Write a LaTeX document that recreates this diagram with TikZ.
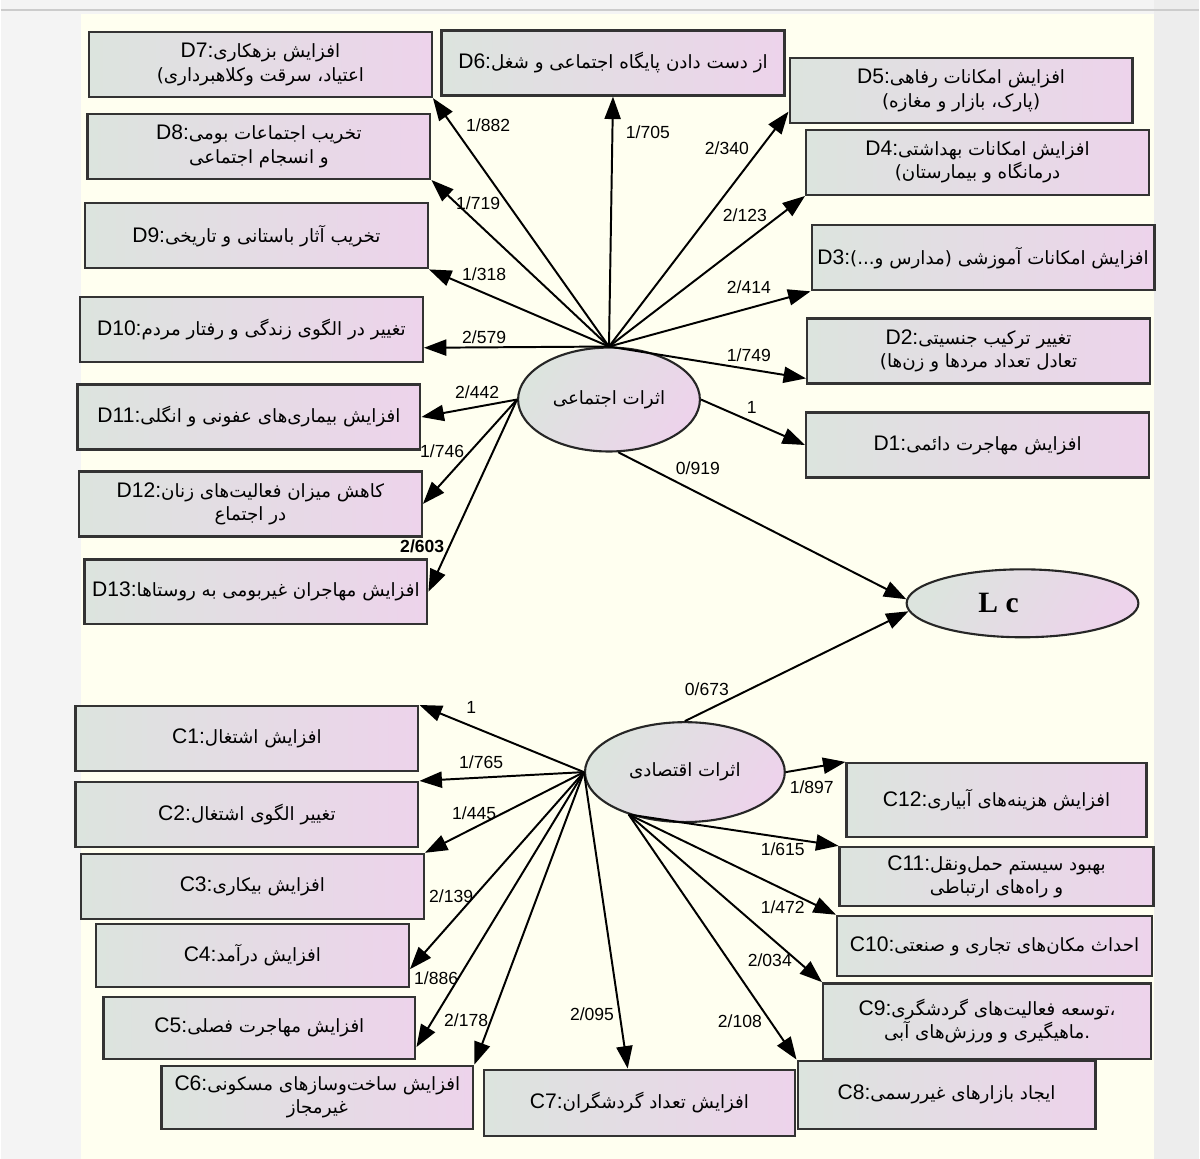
\documentclass[tikz,border=0pt]{standalone}
\usepackage{fontspec}
\setmainfont{Liberation Sans}
\newfontfamily\fafont[Script=Arabic]{DejaVu Sans}
\newfontfamily\lcfont{Liberation Serif}
\TeXXeTstate=1
\usepackage{tikz}
\usetikzlibrary{arrows.meta, positioning, shapes.geometric}

\definecolor{paper}{HTML}{FFFFF0}
\definecolor{margin_l}{HTML}{F4F4F4}
\definecolor{margin_r}{HTML}{EDEDED}
\definecolor{box_l}{HTML}{DCE4DE}
\definecolor{box_r}{HTML}{EDD3EB}

\newcommand{\fa}[1]{\beginR{\fafont\fontsize{13}{17}\selectfont #1}\endR}

\begin{document}
\begin{tikzpicture}[
  x=0.025cm, y=-0.025cm,
  arrow/.style={-{Triangle[length=16pt, width=11.5pt]}, line width=1.4pt},
  item_box/.style={rectangle, draw=black!80, line width=1.7pt, left color=box_l, right color=box_r, minimum width=8.575cm, minimum height=1.625cm, align=center, inner sep=1pt, font=\fontsize{15}{16.5}\selectfont},
  factor/.style={ellipse, draw=black!85, line width=1.5pt, left color=box_l, right color=box_r, shading angle=60, inner sep=0pt, font=\fontsize{14}{16}\selectfont},
  weight/.style={inner sep=1pt, font=\fontsize{12.5}{14}\selectfont}
]

  % page background
  \fill[margin_l] (0,0) rectangle (1200,1160);
  \fill[margin_r] (1155,0) rectangle (1200,1160);
  \fill[paper] (80,14) rectangle (1155,1160);
  \draw[black!20, line width=1pt] (0,10) -- (1200,10);
  \useasboundingbox (0,0) rectangle (1200,1160);

  % social effects (D)
  \node (d7) [item_box] at (260,64.5) {D7:\fa{افزایش بزهکاری}\\ \fa{اعتیاد، سرقت وکلاهبرداری)}};
  \node (d6) [item_box] at (613,63) {D6:\fa{از دست دادن پایگاه اجتماعی و شغل}};
  \node (d5) [item_box] at (961.5,90.5) {D5:\fa{افزایش امکانات رفاهی}\\ \fa{(پارک، بازار و مغازه)}};
  \node (d4) [item_box] at (978,162.5) {D4:\fa{افزایش امکانات بهداشتی}\\ \fa{درمانگاه و بیمارستان)}};
  \node (d8) [item_box] at (258.5,146.5) {D8:\fa{تخریب اجتماعات بومی}\\ \fa{و انسجام اجتماعی}};
  \node (d9) [item_box] at (256,236) {D9:\fa{تخریب آثار باستانی و تاریخی}};
  \node (d3) [item_box] at (983.5,258) {D3:\fa{افزایش امکانات آموزشی (مدارس و...)}};
  \node (d10) [item_box] at (251,330) {D10:\fa{تغییر در الگوی زندگی و رفتار مردم}};
  \node (d2) [item_box] at (979,351.5) {D2:\fa{تغییر ترکیب جنسیتی}\\ \fa{تعادل تعداد مردها و زن‌ها)}};
  \node (d11) [item_box] at (248.5,417.5) {D11:\fa{افزایش بیماری‌های عفونی و انگلی}};
  \node (d1) [item_box] at (978,445.5) {D1:\fa{افزایش مهاجرت دائمی}};
  \node (d12) [item_box] at (250,504.5) {D12:\fa{کاهش میزان فعالیت‌های زنان}\\ \fa{در اجتماع}};
  \node (d13) [item_box] at (255.5,592.5) {D13:\fa{افزایش مهاجران غیربومی به روستاها}};

  % latent factors
  \node (soc) [factor, minimum width=4.55cm, minimum height=2.6cm] at (609,400) {\fa{اثرات اجتماعی}};
  \node (lc) [factor, minimum width=5.8cm, minimum height=1.7cm] at (1023,604) {\lcfont\bfseries\fontsize{21}{23}\selectfont L c\hspace{1.2cm}\mbox{}};
  \node (eco) [factor, minimum width=5cm, minimum height=2.5cm] at (685,773) {\fa{اثرات اقتصادی}};

  % economic effects (C)
  \node (c1) [item_box] at (246.5,739.5) {C1:\fa{افزایش اشتغال}};
  \node (c2) [item_box] at (246.5,815.5) {C2:\fa{تغییر الگوی اشتغال}};
  \node (c3) [item_box] at (252,887.5) {C3:\fa{افزایش بیکاری}};
  \node (c4) [item_box, minimum width=7.825cm, minimum height=1.575cm] at (252,956.5) {C4:\fa{افزایش درآمد}};
  \node (c5) [item_box, minimum width=7.8cm, minimum height=1.55cm] at (259,1029) {C5:\fa{افزایش مهاجرت فصلی}};
  \node (c6) [item_box, minimum width=7.8cm, minimum height=1.575cm] at (317,1098.5) {C6:\fa{افزایش ساخت‌وسازهای مسکونی}\\ \fa{غیرمجاز}};
  \node (c7) [item_box, minimum width=7.775cm, minimum height=1.65cm] at (639.5,1104) {C7:\fa{افزایش تعداد گردشگران}};
  \node (c8) [item_box, minimum width=7.45cm, minimum height=1.7cm] at (947,1096) {C8:\fa{ایجاد بازارهای غیررسمی}};
  \node (c9) [item_box, minimum width=8.2cm, minimum height=1.9cm] at (987.5,1022.5) {C9:\fa{،توسعه فعالیت‌های گردشگری}\\ \fa{.ماهیگیری و ورزش‌های آبی}};
  \node (c10) [item_box, minimum width=7.875cm, minimum height=1.5cm] at (995,947) {C10:\fa{احداث مکان‌های تجاری و صنعتی}};
  \node (c11) [item_box, minimum width=7.85cm, minimum height=1.475cm] at (997,877.5) {C11:\fa{بهبود سیستم حمل‌ونقل}\\ \fa{و راه‌های ارتباطی}};
  \node (c12) [item_box, minimum width=7.5cm, minimum height=1.85cm] at (997,801) {C12:\fa{افزایش هزینه‌های آبیاری}};

  % social loadings
  \draw[arrow] (soc.north) -- (d7.south east);
  \draw[arrow] (soc.north) -- (d6.south);
  \draw[arrow] (soc.north) -- (d5.187);
  \draw[arrow] (soc.north) -- (d4.south west);
  \draw[arrow] (soc.north) -- (d3.south west);
  \draw[arrow] (soc.north) -- (d2.189);
  \draw[arrow] (soc.east) -- (d1.west);
  \draw[arrow] (soc.north) -- (d8.south east);
  \draw[arrow] (soc.north) -- (d9.south east);
  \draw[arrow] (soc.north) -- (d10.354);
  \draw[arrow] (soc.west) -- (d11.east);
  \draw[arrow] (soc.west) -- (d12.east);
  \draw[arrow] (soc.west) -- (d13.east);

  % paths to Lc
  \draw[arrow] (soc.280) -- (lc.178);
  \draw[arrow] (eco.north) -- (lc.184);

  % economic loadings
  \draw[arrow] (eco.west) -- (c1.north east);
  \draw[arrow] (eco.west) -- (c2.north east);
  \draw[arrow] (eco.west) -- (c3.north east);
  \draw[arrow] (eco.west) -- (c4.355);
  \draw[arrow] (eco.west) -- (c5.353);
  \draw[arrow] (eco.west) -- (c6.north east);
  \draw[arrow] (eco.west) -- (c7.109);
  \draw[arrow] (eco.217) -- (c8.north west);
  \draw[arrow] (eco.217) -- (c9.north west);
  \draw[arrow] (eco.217) -- (c10.north west);
  \draw[arrow] (eco.217) -- (c11.north west);
  \draw[arrow] (eco.east) -- (c12.north west);

  % weights
  \node (w_d7) [weight] at (488,125) {1/882};
  \node (w_d6) [weight] at (648,132) {1/705};
  \node (w_d5) [weight] at (727,148) {2/340};
  \node (w_d4) [weight] at (745,215) {2/123};
  \node (w_d3) [weight] at (749,288) {2/414};
  \node (w_d2) [weight] at (749,356) {1/749};
  \node (w_d1) [weight] at (752,408) {1};
  \node (w_d8) [weight] at (478,203) {1/719};
  \node (w_d9) [weight] at (484,275) {1/318};
  \node (w_d10) [weight] at (484,338) {2/579};
  \node (w_d11) [weight] at (477,393) {2/442};
  \node (w_d12) [weight] at (442,452) {1/746};
  \node (w_d13) [weight, font=\fontsize{12.5}{14}\selectfont\bfseries] at (422,547) {2/603};
  \node (w_soc) [weight] at (698,469) {0/919};
  \node (w_eco) [weight] at (707,690) {0/673};
  \node (w_c1) [weight] at (471,708) {1};
  \node (w_c2) [weight] at (481,763) {1/765};
  \node (w_c3) [weight] at (474,814) {1/445};
  \node (w_c4) [weight] at (451,897) {2/139};
  \node (w_c5) [weight] at (436,979) {1/886};
  \node (w_c6) [weight] at (466,1021) {2/178};
  \node (w_c7) [weight] at (592,1015) {2/095};
  \node (w_c8) [weight] at (740,1022) {2/108};
  \node (w_c9) [weight] at (770,961) {2/034};
  \node (w_c10) [weight] at (783,908) {1/472};
  \node (w_c11) [weight] at (783,850) {1/615};
  \node (w_c12) [weight] at (812,788) {1/897};

\end{tikzpicture}
\end{document}
